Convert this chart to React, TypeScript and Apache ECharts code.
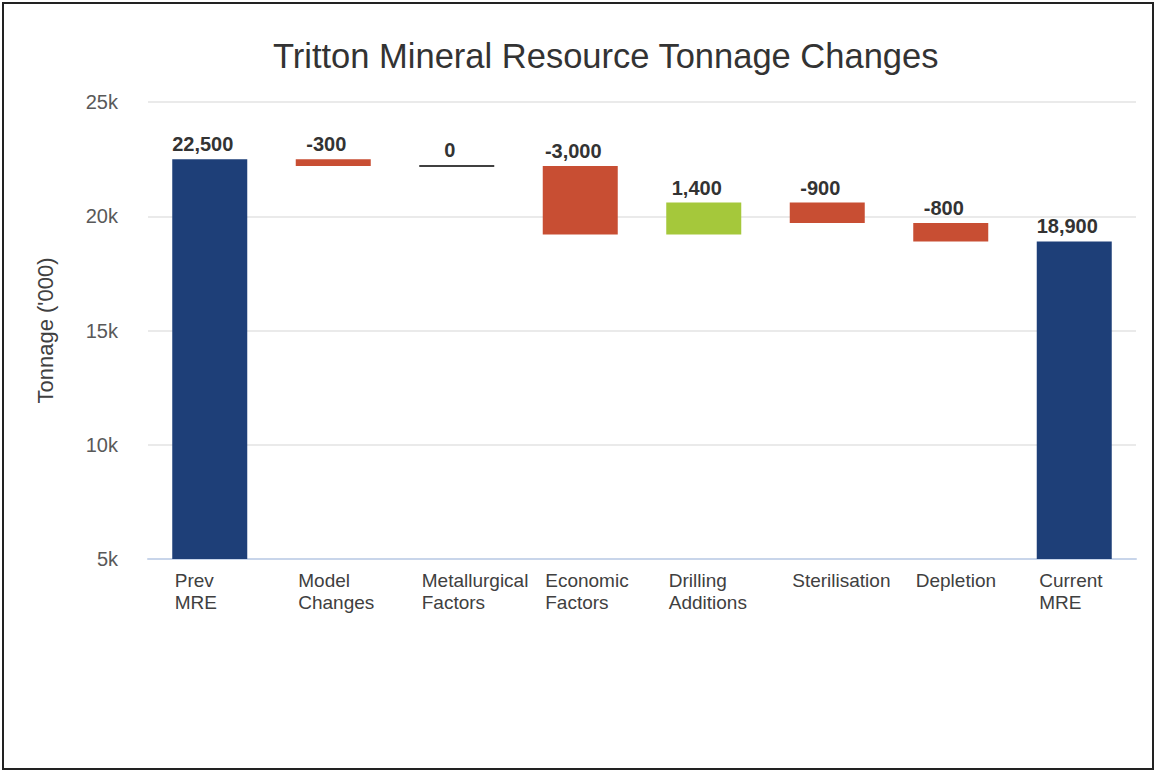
import React, { useEffect, useRef } from "react";
import * as echarts from "echarts";

const categories = ["Prev\nMRE", "Model\nChanges", "Metallurgical\nFactors", "Economic\nFactors", "Drilling\nAdditions", "Sterilisation", "Depletion", "Current\nMRE"];
const changes = [22500, -300, 0, -3000, 1400, -900, -800, 18900];
const kinds = ["total", "delta", "delta", "delta", "delta", "delta", "delta", "total"];
const yTicks = [5000, 10000, 15000, 20000, 25000];

const COLORS = { total: "#1E3F78", down: "#C84E33", up: "#A5C83B", zero: "#404040" };
const FONT = "'Liberation Sans', Arial, sans-serif";

function buildWaterfall() {
  const base: number[] = [];
  const vis: any[] = [];
  let running = 0;
  changes.forEach((c, i) => {
    if (kinds[i] === "total") {
      base.push(0);
      running = c;
      vis.push({ value: c, itemStyle: { color: COLORS.total } });
    } else {
      const start = running;
      const end = running + c;
      base.push(Math.min(start, end));
      running = end;
      if (c === 0) {
        vis.push({ value: 0, itemStyle: { color: COLORS.zero, borderColor: COLORS.zero, borderWidth: 2 } });
      } else {
        vis.push({ value: Math.abs(c), itemStyle: { color: c < 0 ? COLORS.down : COLORS.up } });
      }
    }
  });
  return { base, vis };
}

export default function App() {
  const ref = useRef<HTMLDivElement>(null);
  useEffect(() => {
    if (!ref.current) return;
    const chart = echarts.init(ref.current, undefined, { renderer: "svg" });
    const { base, vis } = buildWaterfall();
    chart.setOption({
      animation: false,
      backgroundColor: "#ffffff",
      textStyle: { fontFamily: FONT },
      title: {
        text: "Tritton Mineral Resource Tonnage Changes",
        left: 268,
        top: 33,
        textStyle: { fontFamily: FONT, fontSize: 34.5, fontWeight: "normal", color: "#333333" },
      },
      graphic: [
        { type: "rect", shape: { x: 3, y: 3, width: 1150, height: 766 }, style: { fill: "none", stroke: "#222222", lineWidth: 2 }, silent: true },
      ],
      grid: { left: 148, right: 21, top: 102, bottom: 213 },
      xAxis: {
        type: "category",
        data: categories,
        axisLine: { lineStyle: { color: "#C8D5EA", width: 2 } },
        axisTick: { show: false },
        axisLabel: {
          margin: 10,
          interval: 0,
          formatter: (v: string) => v.split("\n").map((s) => `{a|${s}}`).join("\n"),
          rich: { a: { width: 70, align: "left", fontSize: 19, lineHeight: 22, color: "#404040", fontFamily: FONT } },
        },
      },
      yAxis: {
        type: "value",
        min: 5000,
        max: 25000,
        interval: 5000,
        name: "Tonnage ('000)",
        nameLocation: "middle",
        nameRotate: 90,
        nameGap: 92,
        nameTextStyle: { fontSize: 22, color: "#404040", fontFamily: FONT },
        axisLine: { show: false },
        axisTick: { show: false },
        splitLine: { lineStyle: { color: "#E3E3E3", width: 1.5 } },
        axisLabel: {
          margin: 30,
          fontSize: 20,
          color: "#595959",
          fontFamily: FONT,
          formatter: (v: number) => (yTicks.includes(v) ? `${v / 1000}k` : ""),
        },
      },
      series: [
        {
          type: "bar",
          stack: "wf",
          data: base,
          itemStyle: { color: "transparent" },
          silent: true,
          barWidth: 75,
        },
        {
          type: "bar",
          stack: "wf",
          data: vis,
          barWidth: 75,
          label: {
            show: true,
            position: "top",
            distance: 5,
            offset: [-7, 0],
            fontSize: 20,
            fontWeight: "bold",
            color: "#333333",
            fontFamily: FONT,
            formatter: (p: any) => changes[p.dataIndex].toLocaleString("en-US"),
          },
        },
      ],
    });
    return () => chart.dispose();
  }, []);
  return <div ref={ref} style={{ position: "absolute", left: 0, top: 0, width: 1157, height: 772 }} />;
}
